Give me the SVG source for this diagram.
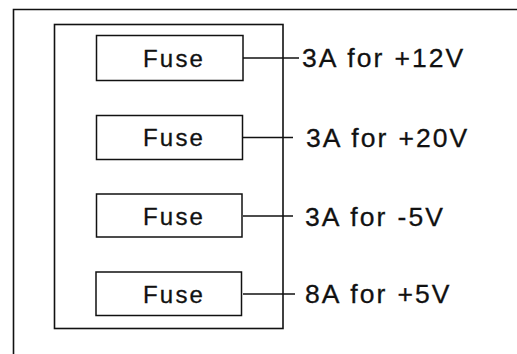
<svg xmlns="http://www.w3.org/2000/svg" width="517" height="354" viewBox="0 0 517 354">
<style>
.frame{fill:none;stroke:#111;stroke-width:1.6}
.box{fill:#fff;stroke:#111;stroke-width:1.5}
.wire{fill:none;stroke:#111;stroke-width:1.4}
.ft{font-family:"Liberation Sans",Arial,sans-serif;font-size:24px;letter-spacing:2.2px;fill:#111;stroke:#111;stroke-width:0.3}
.lt{font-family:"Liberation Sans",Arial,sans-serif;font-size:26.5px;letter-spacing:2px;word-spacing:1px;fill:#111;stroke:#111;stroke-width:0.3}
</style>
<rect width="517" height="354" fill="#fff"/>
<g id="outer-frame"><path class="frame" d="M13.5,354 V9.5 H517"/></g>
<g id="fuse-panel"><rect class="frame" x="54.5" y="24.5" width="228.5" height="304"/></g>
<g id="connectors">
<line class="wire" x1="243" y1="58" x2="299" y2="58"/>
<line class="wire" x1="243" y1="137.5" x2="293" y2="137.5"/>
<line class="wire" x1="243" y1="216" x2="293" y2="216"/>
<line class="wire" x1="243" y1="294" x2="295" y2="294"/>
</g>
<g id="fuse1"><rect class="box" x="96.5" y="35.5" width="146.5" height="45"/><text class="ft" x="143" y="66.5">Fuse</text></g>
<g id="fuse2"><rect class="box" x="96.5" y="115.5" width="146" height="44"/><text class="ft" x="143" y="146">Fuse</text></g>
<g id="fuse3"><rect class="box" x="96.5" y="194" width="145.5" height="43"/><text class="ft" x="143" y="224.5">Fuse</text></g>
<g id="fuse4"><rect class="box" x="96" y="272" width="145.5" height="43.5"/><text class="ft" x="143" y="302.5">Fuse</text></g>
<g id="labels">
<text class="lt" x="302" y="67">3A for +12V</text>
<text class="lt" x="306" y="146.5">3A for +20V</text>
<text class="lt" x="305" y="225.5">3A for -5V</text>
<text class="lt" x="305" y="303">8A for +5V</text>
</g>
</svg>
